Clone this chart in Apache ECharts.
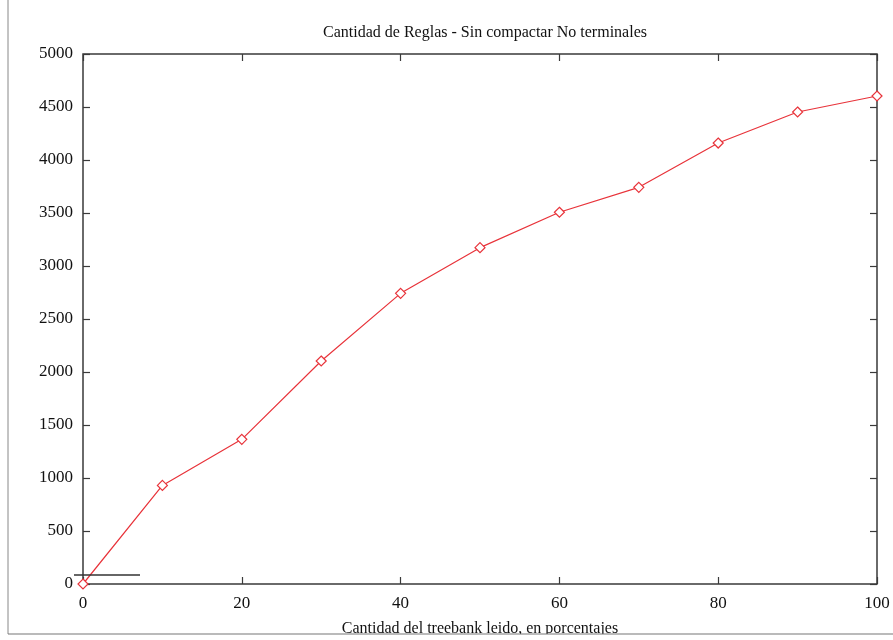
<!DOCTYPE html>
<html>
<head>
<meta charset="utf-8">
<script src="https://cdn.jsdelivr.net/npm/echarts@6/dist/echarts.min.js"></script>
<style>
    html, body { margin: 0; padding: 0; background: #fff; }
    #chart { width: 893px; height: 640px; }
</style>
</head>
<body>
<div id="chart"></div>
<script>
// datos
var porcentajes = [0, 10, 20, 30, 40, 50, 60, 70, 80, 90, 100];
var reglas = [0, 930, 1365, 2104, 2742, 3173, 3507, 3742, 4160, 4453, 4604];
var xTicks = [0, 20, 40, 60, 80, 100];
var yTicks = [0, 500, 1000, 1500, 2000, 2500, 3000, 3500, 4000, 4500, 5000];

var font = 'Liberation Serif';
var axisColor = '#3a3a3a';

var seriesData = porcentajes.map(function (p, i) { return [p, reglas[i]]; });

function tickAxis(opts) {
    return Object.assign({
        type: 'value',
        axisLine: { show: false, onZero: false },
        axisTick: { show: true, inside: true, length: 7, lineStyle: { color: axisColor, width: 1.2 } },
        splitLine: { show: false }
    }, opts);
}

var chart = echarts.init(document.getElementById('chart'));

chart.setOption({
    backgroundColor: '#fff',
    animation: false,
    title: {
        text: 'Cantidad de Reglas - Sin compactar No terminales',
        left: 480,
        textAlign: 'center',
        top: 20,
        textStyle: { fontFamily: font, fontSize: 16, fontWeight: 'normal', color: '#111' }
    },
    grid: {
        left: 83, right: 16, top: 54, bottom: 56,
        outerBoundsMode: 'none',
        containLabel: false,
        show: true, borderColor: axisColor, borderWidth: 1.5, backgroundColor: 'transparent'
    },
    xAxis: [
        tickAxis({
            position: 'bottom',
            min: xTicks[0], max: xTicks[xTicks.length - 1], interval: 20,
            name: 'Cantidad del treebank leido, en porcentajes',
            nameLocation: 'middle', nameGap: 37,
            nameTextStyle: { fontFamily: font, fontSize: 16, color: '#111' },
            axisLabel: { fontFamily: font, fontSize: 17, color: '#111', margin: 11 }
        }),
        tickAxis({
            position: 'top',
            min: xTicks[0], max: xTicks[xTicks.length - 1], interval: 20,
            axisLabel: { show: false }
        })
    ],
    yAxis: [
        tickAxis({
            position: 'left',
            min: yTicks[0], max: yTicks[yTicks.length - 1], interval: 500,
            axisLabel: {
                fontFamily: font, fontSize: 17, color: '#111', margin: 10,
                formatter: function (v) { return String(v); }
            }
        }),
        tickAxis({
            position: 'right',
            min: yTicks[0], max: yTicks[yTicks.length - 1], interval: 500,
            axisLabel: { show: false }
        })
    ],
    series: [
        {
            type: 'line',
            data: seriesData,
            symbol: 'diamond',
            symbolSize: 10,
            showAllSymbol: true,
            itemStyle: { color: '#fff', borderColor: '#e8333a', borderWidth: 1.2 },
            lineStyle: { color: '#e8333a', width: 1.2 },
            z: 5
        }
    ],
    graphic: [
        // muestra de linea de la leyenda
        { type: 'line', shape: { x1: 74, y1: 575, x2: 140, y2: 575 }, style: { stroke: '#333', lineWidth: 1.5 }, z: 10 },
        // borde de la captura
        { type: 'rect', shape: { x: 0, y: 634, width: 893, height: 6 }, style: { fill: '#fff' }, z: 20 },
        { type: 'line', shape: { x1: 8, y1: 0, x2: 8, y2: 634 }, style: { stroke: '#888', lineWidth: 1 }, z: 21 },
        { type: 'line', shape: { x1: 8, y1: 634, x2: 893, y2: 634 }, style: { stroke: '#777', lineWidth: 1.2 }, z: 21 }
    ]
});
</script>
</body>
</html>
